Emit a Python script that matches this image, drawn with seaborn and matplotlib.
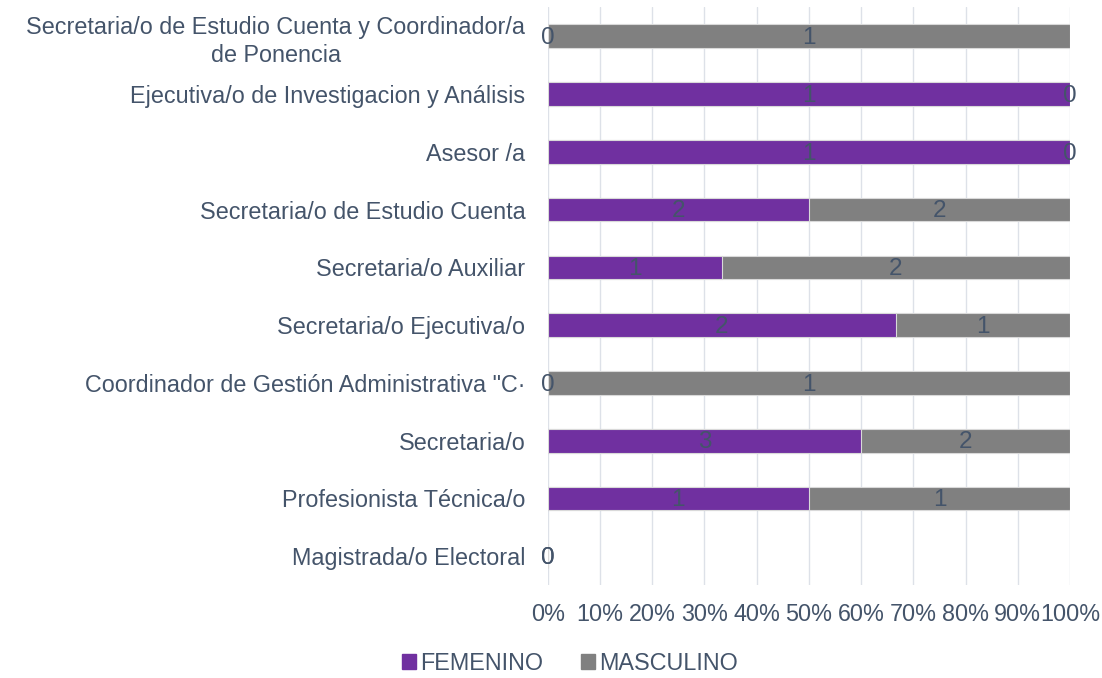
import seaborn as sns
import matplotlib.pyplot as plt
import pandas as pd
from matplotlib.patches import Patch

# Datos del gráfico (de arriba hacia abajo)
puestos = [
    "Secretaria/o de Estudio Cuenta y Coordinador/a\nde Ponencia",
    "Ejecutiva/o de Investigacion y Análisis",
    "Asesor /a",
    "Secretaria/o de Estudio Cuenta",
    "Secretaria/o Auxiliar",
    "Secretaria/o Ejecutiva/o",
    "Coordinador de Gestión Administrativa \"C·",
    "Secretaria/o",
    "Profesionista Técnica/o",
    "Magistrada/o Electoral",
]
femenino = [0, 1, 1, 2, 1, 2, 0, 3, 1, 0]
masculino = [1, 0, 0, 2, 2, 1, 1, 2, 1, 0]

df = pd.DataFrame({"puesto": puestos, "fem": femenino, "masc": masculino})
df["total"] = df["fem"] + df["masc"]
df["fem_pct"] = (df["fem"] / df["total"] * 100).fillna(0)
df["masc_pct"] = (df["masc"] / df["total"] * 100).fillna(0)
df["tot_pct"] = df["fem_pct"] + df["masc_pct"]

morado = "#7030A0"
gris = "#808080"
texto = "#44546A"
fs = 16.8

sns.set_style("white")
plt.rcParams["font.family"] = ["Liberation Sans", "DejaVu Sans"]

fig = plt.figure(figsize=(11.02, 6.78), dpi=100)
ax = fig.add_axes([0.497, 0.137, 0.474, 0.852])

# Barras apiladas al 100%: primero el total (gris), encima femenino (morado)
sns.barplot(data=df, x="tot_pct", y="puesto", color=gris, width=0.41, saturation=1,
            orient="h", edgecolor="#D9D9D9", linewidth=0.8, ax=ax)
sns.barplot(data=df, x="fem_pct", y="puesto", color=morado, width=0.41, saturation=1,
            orient="h", edgecolor="#D9D9D9", linewidth=0.8, ax=ax)

# Etiquetas con los conteos
for i, row in df.iterrows():
    xf = row["fem_pct"] / 2
    xm = row["fem_pct"] + row["masc_pct"] / 2
    ax.text(xf, i + 0.03, f"{row['fem']}", ha="center", va="center",
            fontsize=17.5, color=texto)
    ax.text(xm, i + 0.03, f"{row['masc']}", ha="center", va="center",
            fontsize=17.5, color=texto)

ax.set_xlim(0, 100)
ax.set_ylim(9.5, -0.5)
ax.set_xticks(range(0, 101, 10))
ax.set_xticklabels([f"{v}%" for v in range(0, 101, 10)])
ax.xaxis.grid(True, color="#DDE1E8", linewidth=1)
ax.set_axisbelow(True)
for s in ax.spines.values():
    s.set_visible(False)
ax.tick_params(axis="x", length=0, pad=13, labelsize=fs, labelcolor=texto)
ax.tick_params(axis="y", length=0, pad=16, labelsize=fs, labelcolor=texto)
for lab in ax.get_yticklabels():
    lab.set_multialignment("center")
    lab.set_linespacing(1.3)
ax.set_xlabel("")
ax.set_ylabel("")

handles = [Patch(color=morado, label="FEMENINO"), Patch(color=gris, label="MASCULINO")]
fig.legend(handles=handles, loc="center", bbox_to_anchor=(0.517, 0.022),
           ncol=2, frameon=False, fontsize=fs, labelcolor=texto,
           handlelength=0.6, handleheight=0.6, handletextpad=0.2, columnspacing=1.6)

plt.savefig("out.png", dpi=100)
